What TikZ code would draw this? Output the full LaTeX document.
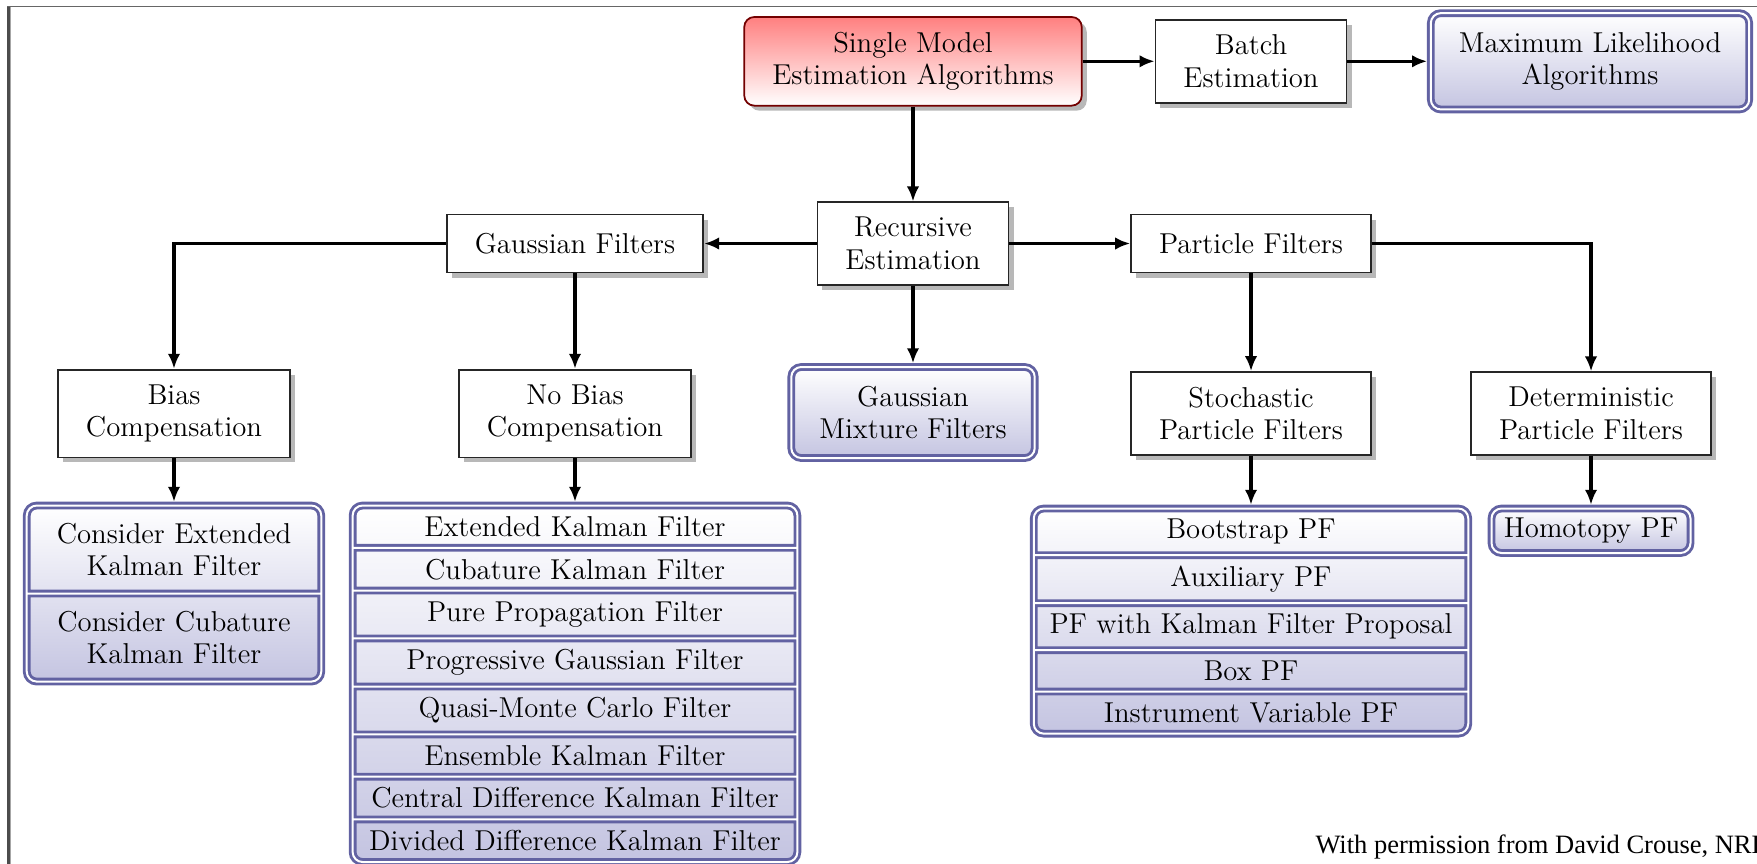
\documentclass[tikz,border=0pt]{standalone}
\usepackage{fontspec}
\newfontfamily\footfont{Liberation Serif}
\usetikzlibrary{arrows.meta,positioning,fit,shadows,backgrounds}
\definecolor{lblue}{RGB}{98,98,162}
\definecolor{lav}{RGB}{196,196,225}
\tikzset{
 txt/.style={font=\fontsize{11.5}{13}\selectfont, align=center},
 plainbox/.style={txt, draw=black!85, line width=0.7pt, fill=white, inner xsep=11.2pt, inner ysep=6pt, minimum height=23.2pt,
   drop shadow={shadow xshift=2pt, shadow yshift=-2pt, fill=black!28, opacity=1}},
 redbox/.style={plainbox, draw=red!45!black, rounded corners=4pt, top color=red!50, bottom color=white},
 dline/.style={draw=lblue, line width=1.15pt, double=white, double distance=0.8pt},
 bluebox/.style={txt, dline, rounded corners=4pt, top color=white, bottom color=lav, inner xsep=11.2pt, inner ysep=7.6pt, outer sep=1.5pt},
 rowbox/.style={txt, inner xsep=4pt, inner ysep=4.4pt, outer sep=0pt},
 listbg/.style={rounded corners=4pt, top color=white, bottom color=lav, inner sep=0pt, outer sep=1.5pt},
 arr/.style={-{Latex[length=6pt,width=5pt]}, line width=1.35pt},
}
\begin{document}
\begin{tikzpicture}[x=0.4pt, y=-0.4pt]
\useasboundingbox (0,0) rectangle (1757,863);
\clip (0,0) rectangle (1757,863);
% page frame
\draw[black!35, line width=0.7pt] (10.4,6.7) -- (10.4,870);
\draw[black!70, line width=1.2pt] (8,6.7) -- (8,870);
\draw[black!60, line width=0.6pt] (7,6.7) -- (1760,6.7);

% top row
\node[redbox] (sm) at (913,61.3) {Single Model\\Estimation Algorithms};
\node[plainbox] (batch) at (1251,61.3) {Batch\\Estimation};
\node[bluebox] (ml) at (1590,61.3) {Maximum Likelihood\\Algorithms};
% second row
\node[plainbox] (rec) at (913,243.5) {Recursive\\Estimation};
\node[plainbox] (gf) at (575,243.5) {Gaussian Filters};
\node[plainbox] (pf) at (1251,243.5) {Particle Filters};
% third row
\node[plainbox] (bias) at (174,413.5) {Bias\\Compensation};
\node[plainbox] (nobias) at (575,413.5) {No Bias\\Compensation};
\node[bluebox] (gmf) at (913,412.5) {Gaussian\\Mixture Filters};
\node[plainbox] (stoch) at (1251,413.5) {Stochastic\\Particle Filters};
\node[plainbox] (det) at (1591,413.5) {Deterministic\\Particle Filters};

% bias list
\node[rowbox, inner ysep=7pt, minimum width=117.8pt, anchor=north] (b1) at (174,505.5) {Consider Extended\\Kalman Filter};
\node[rowbox, inner ysep=7pt, minimum width=117.8pt, below=0pt of b1] (b2) {Consider Cubature\\Kalman Filter};
\begin{scope}[on background layer]
\node[listbg, fit=(b1)(b2)] (bl) {};
\end{scope}
\draw[dline, rounded corners=4pt] (b2.south west) rectangle (b1.north east)
  (b1.south west) -- (b1.south east);

% no bias list
\begin{scope}[every node/.append style={minimum width=177.9pt}]
\node[rowbox, anchor=north] (n1) at (575,505.5) {Extended Kalman Filter};
\node[rowbox, below=0pt of n1] (n2) {Cubature Kalman Filter};
\node[rowbox, below=0pt of n2] (n3) {Pure Propagation Filter};
\node[rowbox, below=0pt of n3] (n4) {Progressive Gaussian Filter};
\node[rowbox, below=0pt of n4] (n5) {Quasi-Monte Carlo Filter};
\node[rowbox, below=0pt of n5] (n6) {Ensemble Kalman Filter};
\node[rowbox, below=0pt of n6] (n7) {Central Difference Kalman Filter};
\node[rowbox, below=0pt of n7] (n8) {Divided Difference Kalman Filter};
\end{scope}
\begin{scope}[on background layer]
\node[listbg, fit=(n1)(n8)] (nl) {};
\end{scope}
\draw[dline, rounded corners=4pt] (n8.south west) rectangle (n1.north east)
  (n1.south west) -- (n1.south east) (n2.south west) -- (n2.south east)
  (n3.south west) -- (n3.south east) (n4.south west) -- (n4.south east)
  (n5.south west) -- (n5.south east) (n6.south west) -- (n6.south east)
  (n7.south west) -- (n7.south east);

% stochastic list
\begin{scope}[every node/.append style={minimum width=173.8pt}]
\node[rowbox, inner ysep=4.3pt, anchor=north] (s1) at (1251,508.5) {Bootstrap PF};
\node[rowbox, inner ysep=4.3pt, below=0pt of s1] (s2) {Auxiliary PF};
\node[rowbox, inner ysep=4.3pt, below=0pt of s2] (s3) {PF with Kalman Filter Proposal};
\node[rowbox, inner ysep=4.3pt, below=0pt of s3] (s4) {Box PF};
\node[rowbox, inner ysep=4.3pt, below=0pt of s4] (s5) {Instrument Variable PF};
\end{scope}
\begin{scope}[on background layer]
\node[listbg, fit=(s1)(s5)] (sl) {};
\end{scope}
\draw[dline, rounded corners=4pt] (s5.south west) rectangle (s1.north east)
  (s1.south west) -- (s1.south east) (s2.south west) -- (s2.south east)
  (s3.south west) -- (s3.south east) (s4.south west) -- (s4.south east);

% homotopy
\node[rowbox, inner ysep=3.8pt, minimum width=79.6pt, anchor=north] (h1) at (1591,508.5) {Homotopy PF};
\begin{scope}[on background layer]
\node[listbg, fit=(h1)] (hl) {};
\end{scope}
\draw[dline, rounded corners=4pt] (h1.south west) rectangle (h1.north east);

% connectors
\draw[arr] (sm.east) -- (batch.west);
\draw[arr] (batch.east) -- (ml.west);
\draw[arr] (sm.south) -- (rec.north);
\draw[arr] (rec.west) -- (gf.east);
\draw[arr] (rec.east) -- (pf.west);
\draw[arr] (rec.south) -- (gmf.north);
\draw[arr] (gf.west) -| (bias.north);
\draw[arr] (gf.south) -- (nobias.north);
\draw[arr] (pf.south) -- (stoch.north);
\draw[arr] (pf.east) -| (det.north);
\draw[arr] (bias.south) -- (bl.north);
\draw[arr] (nobias.south) -- (nl.north);
\draw[arr] (stoch.south) -- (sl.north);
\draw[arr] (det.south) -- (hl.north);

% credit
\node[anchor=base west, inner sep=0pt, font=\footfont\fontsize{10.6}{12}\selectfont] (credit) at (1315,853) {With permission from David Crouse, NRL};
\end{tikzpicture}
\end{document}
